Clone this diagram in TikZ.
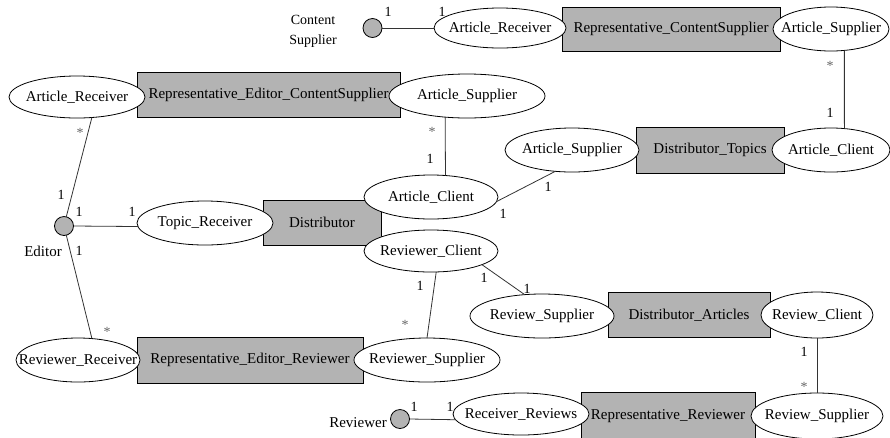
\documentclass[tikz,border=0pt]{standalone}
\usepackage{fontspec}
\setmainfont{Liberation Serif}
\usetikzlibrary{shapes.geometric}
\definecolor{boxgray}{HTML}{B3B3B3}
\definecolor{linegray}{HTML}{333333}
\begin{document}
\begin{tikzpicture}[x=1pt,y=-1pt,
  every node/.style={inner sep=0pt, outer sep=0pt},
  txt/.style={font=\fontsize{15}{17}\selectfont},
  rolebox/.style={draw=black, fill=boxgray, rectangle, line width=0.8pt},
  port/.style={draw=black, fill=white, ellipse, line width=0.8pt},
  actor/.style={draw=black, fill=boxgray, circle, minimum size=19pt, line width=0.8pt},
  conn/.style={draw=linegray, line width=0.8pt},
  mult/.style={font=\fontsize{14}{16}\selectfont},
  star/.style={font=\fontsize{14}{16}\selectfont, text=black!60}
]
\useasboundingbox (0,0) rectangle (890,437);

% ---------- rectangles (shapes only) ----------
\node[rolebox, minimum width=218pt, minimum height=44pt] (r1) at (671,29) {};
\node[rolebox, minimum width=263pt, minimum height=45pt] (r2) at (268.5,94.5) {};
\node[rolebox, minimum width=148pt, minimum height=46pt] (r3) at (710,150) {};
\node[rolebox, minimum width=118pt, minimum height=45pt] (r4) at (322,222.5) {};
\node[rolebox, minimum width=162pt, minimum height=45pt] (r5) at (689,315) {};
\node[rolebox, minimum width=226pt, minimum height=46pt] (r6) at (250,360) {};
\node[rolebox, minimum width=174pt, minimum height=48pt] (r7) at (668,416) {};

% ---------- actors ----------
\node[actor] (cs) at (372.5,28) {};
\node[actor] (ed) at (64,226) {};
\node[actor] (rv) at (400,419) {};
\node[align=center, font=\fontsize{14}{20}\selectfont] (cslab) at (313,31) {Content\\Supplier};
\node[txt] (edlab) at (43,251) {Editor};
\node[txt] (rvlab) at (358,423) {Reviewer};

% ---------- ports ----------
\node[port, minimum width=132pt, minimum height=40pt, label={[txt]center:Article\_Receiver}] (arT) at (500,28) {};
\node[port, minimum width=116pt, minimum height=44pt, label={[txt]center:Article\_Supplier}] (asT) at (831,29) {};
\node[port, minimum width=136pt, minimum height=42pt, label={[txt]center:Article\_Receiver}] (arL) at (77,97) {};
\node[port, minimum width=156pt, minimum height=44pt, label={[txt]center:Article\_Supplier}] (asM) at (467,96) {};
\node[port, minimum width=134pt, minimum height=44pt, label={[txt]center:Article\_Supplier}] (asD) at (572,150) {};
\node[port, minimum width=118pt, minimum height=44pt, label={[txt]center:Article\_Client}] (acR) at (831,150) {};
\node[port, minimum width=134pt, minimum height=44pt, label={[txt]center:Article\_Client}] (acM) at (431,197) {};
\node[port, minimum width=136pt, minimum height=44pt, label={[txt]center:Topic\_Receiver}] (trc) at (205,223) {};
\node[port, minimum width=134pt, minimum height=42pt, label={[txt]center:Reviewer\_Client}] (rcM) at (431,251) {};
\node[port, minimum width=144pt, minimum height=44pt, label={[txt]center:Review\_Supplier}] (rsD) at (542,316) {};
\node[port, minimum width=112pt, minimum height=46pt, label={[txt]center:Review\_Client}] (rcR) at (817,315) {};
\node[port, minimum width=124pt, minimum height=44pt, label={[txt]center:Reviewer\_Receiver}] (rrL) at (78,360) {};
\node[port, minimum width=146pt, minimum height=44pt, label={[txt]center:Reviewer\_Supplier}] (rsM) at (427,360) {};
\node[port, minimum width=136pt, minimum height=42pt, label={[txt]center:Receiver\_Reviews}] (rrB) at (521,414) {};
\node[port, minimum width=132pt, minimum height=46pt, label={[txt]center:Review\_Supplier}] (rsB) at (817,416) {};

% ---------- rectangle texts ----------
\node[txt] (r1t) at (r1) {Representative\_ContentSupplier};
\node[txt] (r2t) at (r2) {Representative\_Editor\_ContentSupplier};
\node[txt] (r3t) at (r3) {Distributor\_Topics};
\node[txt] (r4t) at (r4) {Distributor};
\node[txt] (r5t) at (r5) {Distributor\_Articles};
\node[txt] (r6t) at (r6) {Representative\_Editor\_Reviewer};
\node[txt] (r7t) at (r7) {Representative\_Reviewer};

% ---------- connectors ----------
\draw[conn] (cs.east) -- (arT.west);
\draw[conn] (asT.-58.7) -- (acR.58.8);
\draw[conn] (arL.-54) -- (ed.76);
\draw[conn] (ed.east) -- (trc.-177.4);
\draw[conn] (ed.-76) -- (rrL.57);
\draw[conn] (asM.-136.2) -- (acM.56.9);
\draw[conn] (acM.-4.3) -- (asD.-128.6);
\draw[conn] (rcM.-76.6) -- (rsM.90);
\draw[conn] (rcM.-15) -- (rsD.129.5);
\draw[conn] (rcR.south) -- (rsB.north);
\draw[conn] (rv.east) -- (rrB.-175.7);

% ---------- multiplicities ----------
\node[mult] (m1) at (388,12) {1};
\node[mult] (m2) at (442,12) {1};
\node[star] (m3) at (830,66) {*};
\node[mult] (m4) at (830,113) {1};
\node[star] (m5) at (80,133) {*};
\node[mult] (m6) at (61,195) {1};
\node[mult] (m7) at (79,212) {1};
\node[mult] (m8) at (132,212) {1};
\node[mult] (m9) at (79,251) {1};
\node[star] (m10) at (107,332) {*};
\node[star] (m11) at (432,132) {*};
\node[mult] (m12) at (430,159) {1};
\node[mult] (m13) at (548,187) {1};
\node[mult] (m14) at (503,214) {1};
\node[mult] (m15) at (420,286) {1};
\node[star] (m16) at (405,325) {*};
\node[mult] (m17) at (484,278) {1};
\node[mult] (m18) at (527,289) {1};
\node[mult] (m19) at (804,352) {1};
\node[star] (m20) at (804,387) {*};
\node[mult] (m21) at (414,407) {1};
\node[mult] (m22) at (450,407) {1};
\end{tikzpicture}
\end{document}
